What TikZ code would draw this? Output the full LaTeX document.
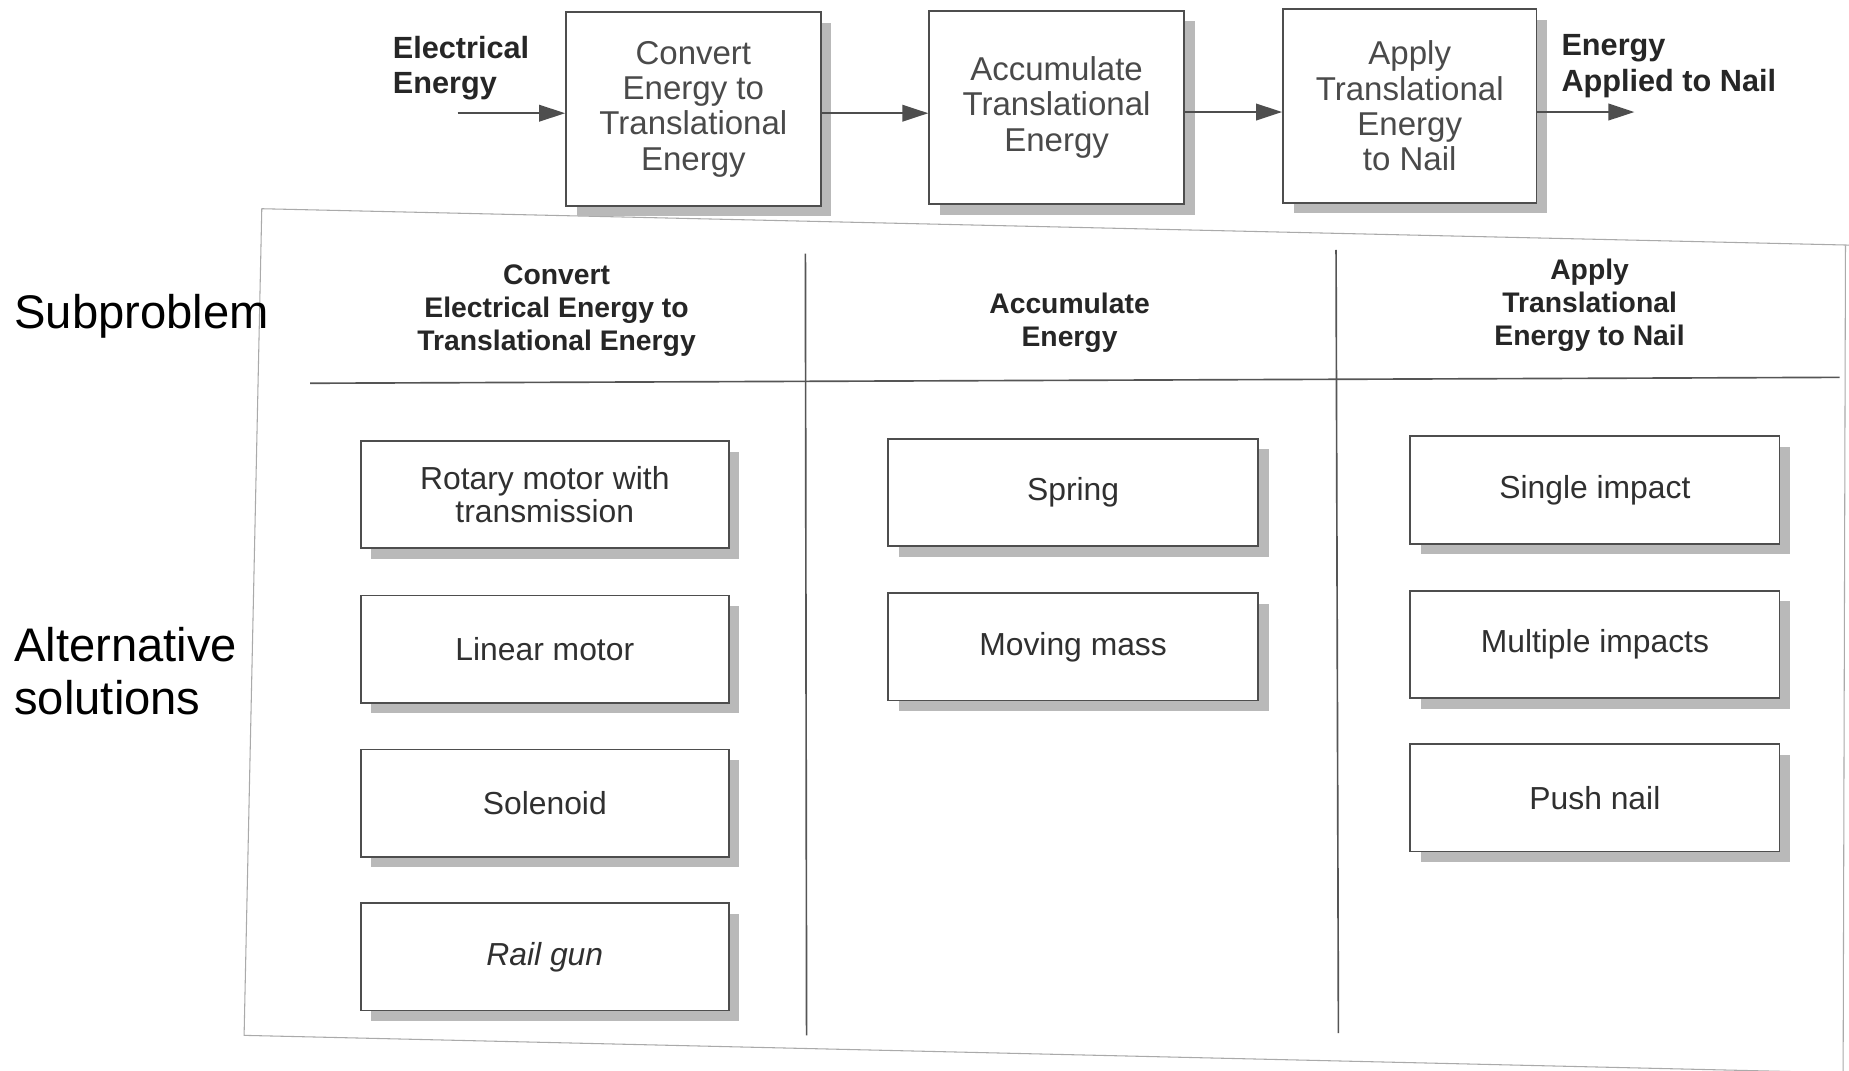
\documentclass[tikz,border=0pt]{standalone}
\usepackage{fontspec}
\setmainfont{Liberation Sans}
\usetikzlibrary{arrows.meta,shadows}

\definecolor{boxline}{HTML}{4E4E4E}
\definecolor{shade}{HTML}{B9B9B9}
\definecolor{stagetext}{HTML}{4A4A4A}
\definecolor{headtext}{HTML}{262626}
\definecolor{soltext}{HTML}{303030}
\definecolor{rulecol}{HTML}{555555}
\definecolor{edgecol}{HTML}{AAAAAA}

\begin{document}
\begin{tikzpicture}[x=1pt,y=-1pt,
  shadowed/.style={drop shadow={shadow xshift=9pt,shadow yshift=-9pt,fill=shade,opacity=1}},
  stagebox/.style={shadowed,draw=boxline,line width=1.6pt,fill=white,inner sep=0pt,
    align=center,text=stagetext,font=\fontsize{28}{30}\selectfont,
    minimum width=216pt,minimum height=164pt},
  solbox/.style={shadowed,draw=boxline,line width=1.5pt,fill=white,inner sep=0pt,
    align=center,text=soltext,font=\fontsize{27}{28}\selectfont,
    minimum width=313pt,minimum height=91pt},
  flowlabel/.style={align=left,inner sep=0pt,text=headtext,
    font=\bfseries\fontsize{26}{30}\selectfont},
  colhead/.style={align=center,inner sep=0pt,text=headtext,
    font=\bfseries\fontsize{24}{28}\selectfont},
  sidelabel/.style={align=left,inner sep=0pt,text=black,
    font=\fontsize{40}{45}\selectfont},
  flow/.style={draw=boxline,line width=1.8pt,-{Triangle[length=22pt,width=14pt]}},
  divider/.style={draw=rulecol,line width=1.4pt},
  panel/.style={draw=edgecol,line width=0.9pt}]

% canvas
\useasboundingbox (0,0) rectangle (1568,908);
\fill[white] (0,0) rectangle (1568,908);

% outline of the lower panel
\begin{scope}
  \clip (0,0) rectangle (1568,908);
  \draw[panel] (1575,208) -- (222,177) -- (207,878) -- (1575,910);
  \draw[panel] (1565,208) -- (1563,910);
\end{scope}

% function chain
\node[stagebox] (b1) at (588,92.5) {Convert\\Energy to\\Translational\\Energy};
\node[stagebox] (b2) at (896,91) {Accumulate\\Translational\\Energy};
\node[stagebox,minimum width=215pt] (b3) at (1195.5,90) {Apply\\Translational\\Energy\\to Nail};

\coordinate (ein) at (388,96);
\coordinate (eout) at (1386,95);
\node[flowlabel,anchor=west] (lin) at (333,58) {Electrical\\Energy};
\node[flowlabel,anchor=west] (lout) at (1324,56) {Energy\\Applied to Nail};

\draw[flow] (ein) -- (ein -| b1.west);
\draw[flow] (b1.east |- ein) -- (b2.west |- ein);
\draw[flow] (b2.east |- eout) -- (b3.west |- eout);
\draw[flow] (b3.east |- eout) -- (eout);

% table rules
\coordinate (hl) at (263,325);
\coordinate (hr) at (1560,320);
\coordinate (v1t) at (683,215);
\coordinate (v1b) at (684,878);
\coordinate (v2t) at (1133,212);
\coordinate (v2b) at (1135,876);
\draw[divider] (hl) -- (hr);
\draw[divider] (v1t) -- (v1b);
\draw[divider] (v2t) -- (v2b);

% column headings
\node[colhead] (h1) at (472,263) {Convert\\Electrical Energy to\\Translational Energy};
\node[colhead] (h2) at (907,274) {Accumulate\\Energy};
\node[colhead] (h3) at (1348,259) {Apply\\Translational\\Energy to Nail};

% alternative solutions
\node[solbox,minimum width=312pt] (s11) at (462,419.5) {Rotary motor with\\transmission};
\node[solbox,minimum width=312pt] (s12) at (462,550.5) {Linear motor};
\node[solbox,minimum width=312pt] (s13) at (462,681) {Solenoid};
\node[solbox,minimum width=312pt] (s14) at (462,811.5) {\itshape Rail gun};

\node[solbox,minimum width=314pt] (s21) at (910,417.5) {Spring};
\node[solbox,minimum width=314pt] (s22) at (910,548.5) {Moving mass};

\node[solbox] (s31) at (1352.5,415.5) {Single impact};
\node[solbox] (s32) at (1352.5,546.5) {Multiple impacts};
\node[solbox] (s33) at (1352.5,676.5) {Push nail};

% row captions
\node[sidelabel,anchor=west] (sub) at (12,268) {Subproblem};
\node[sidelabel,anchor=west] (alt) at (12,569) {Alternative\\solutions};

\end{tikzpicture}
\end{document}
